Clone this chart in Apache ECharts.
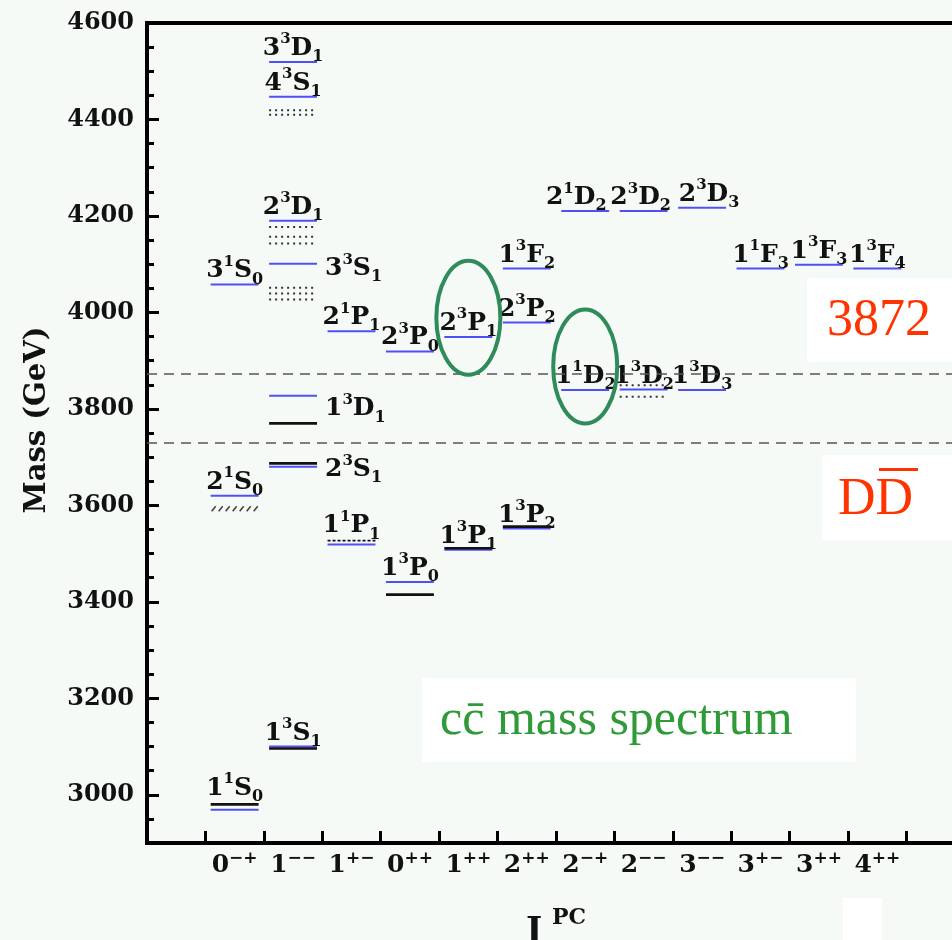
<!DOCTYPE html>
<html>
<head>
<meta charset="utf-8">
<script src="https://cdn.jsdelivr.net/npm/echarts@6/dist/echarts.min.js"></script>
<style>
  html, body { margin: 0; padding: 0; background: #f6faf7; }
  #chart { width: 952px; height: 940px; }
</style>
</head>
<body>
<div id="chart"></div>
<script>
// ---- J^PC columns (first and last slots are empty spacers) ----
const categories = [' ', '0-+', '1--', '1+-', '0++', '1++', '2++', '2-+', '2--', '3--', '3+-', '3++', '4++', '  '];

// ---- mass axis (MeV) ----
const massMin = 2900;
const massMax = 4600;
const majorTicks = [3000, 3200, 3400, 3600, 3800, 4000, 4200, 4400, 4600];
const minorTicks = [2950, 3050, 3100, 3150, 3250, 3300, 3350, 3450, 3500, 3550, 3650, 3700, 3750,
                    3850, 3900, 3950, 4050, 4100, 4150, 4250, 4300, 4350, 4450, 4500, 4550];

// ---- potential-model levels: [J^PC, mass, n(2S+1)L(J)] ----
const modelLevels = [
  ['0-+', 2969, '11S0'], ['0-+', 3620, '21S0'], ['0-+', 4058, '31S0'],
  ['1--', 3100, '13S1'], ['1--', 3680, '23S1'], ['1--', 3827, '13D1'],
  ['1--', 4101, '33S1'], ['1--', 4190, '23D1'], ['1--', 4447, '43S1'], ['1--', 4519, '33D1'],
  ['1+-', 3519, '11P1'], ['1+-', 3961, '21P1'],
  ['0++', 3441, '13P0'], ['0++', 3919, '23P0'],
  ['1++', 3508, '13P1'], ['1++', 3949, '23P1'],
  ['2++', 3552, '13P2'], ['2++', 3979, '23P2'], ['2++', 4091, '13F2'],
  ['2-+', 3839, '11D2'], ['2-+', 4210, '21D2'],
  ['2--', 3840, '13D2'], ['2--', 4210, '23D2'],
  ['3--', 3839, '13D3'], ['3--', 4217, '23D3'],
  ['3+-', 4091, '11F3'], ['3++', 4099, '13F3'], ['4++', 4091, '13F4']
];

// ---- observed states ----
const observedLevels = [['0-+', 2980], ['1--', 3096], ['1--', 3687], ['1--', 3770],
                        ['0++', 3415], ['1++', 3511], ['2++', 3556]];
const observedDashed = [['1+-', 3527]];
const observedHatched = [['0-+', 3593]];
const observedDotted = [['1--', 4027], ['1--', 4039], ['1--', 4051],
                        ['1--', 4143], ['1--', 4157], ['1--', 4177],
                        ['1--', 4410], ['1--', 4419],
                        ['2--', 3825], ['2--', 3849]];

// ---- thresholds and highlighted states ----
const thresholds = [3872, 3730];
const circled = [['1++', 3989], ['2-+', 3888]];

// ---- label placement for names not centred above their line ----
const labelPlacement = {
  '33S1': { side: 'right', dx: 0, dy: 5 },
  '13D1': { side: 'right', dx: 0, dy: 13 },
  '23S1': { side: 'right', dx: 0, dy: 3 },
  '11S0': { side: 'top', dx: 0, dy: -8 },
  '11P1': { side: 'top', dx: 0, dy: -5 },
  '21D2': { side: 'top', dx: -9, dy: 0 },
  '23D2': { side: 'top', dx: -3, dy: 0 },
  '23D3': { side: 'top', dx: 7, dy: 0 }
};

const SERIF = "'DejaVu Serif', serif";
const BLUE = '#4f4ff7';
const INK = '#111111';

const levelRich = {
  b:  { fontFamily: SERIF, fontWeight: 'bold', fontSize: 25, lineHeight: 33, verticalAlign: 'middle', fill: INK },
  sp: { fontFamily: SERIF, fontWeight: 'bold', fontSize: 15, lineHeight: 15, verticalAlign: 'top', fill: INK },
  sb: { fontFamily: SERIF, fontWeight: 'bold', fontSize: 16, lineHeight: 16, verticalAlign: 'bottom', fill: INK }
};

function levelText(name) {
  return '{b|' + name[0] + '}{sp|' + name[1] + '}{b|' + name[2] + '}{sb|' + name[3] + '}';
}

function halfWidth(api) {
  return api.size([1, 0])[0] * 0.41;
}

function modelItem(params, api) {
  const p = api.coord([api.value(0), api.value(1)]);
  const h = halfWidth(api);
  const name = modelLevels[params.dataIndex][2];
  const place = labelPlacement[name] || { side: 'top', dx: 0, dy: 0 };
  const text = levelText(name);
  const label = place.side === 'right'
    ? { type: 'text', x: p[0] + h + 8 + place.dx, y: p[1] + place.dy,
        style: { text: text, rich: levelRich, align: 'left', verticalAlign: 'middle' } }
    : { type: 'text', x: p[0] + place.dx, y: p[1] + 3 + place.dy,
        style: { text: text, rich: levelRich, align: 'center', verticalAlign: 'bottom' } };
  return {
    type: 'group',
    children: [
      { type: 'line', shape: { x1: p[0] - h, y1: p[1], x2: p[0] + h, y2: p[1] },
        style: { stroke: BLUE, lineWidth: 2 } },
      label
    ]
  };
}

function solidItem(params, api) {
  const p = api.coord([api.value(0), api.value(1)]);
  const h = halfWidth(api);
  return { type: 'line', shape: { x1: p[0] - h, y1: p[1], x2: p[0] + h, y2: p[1] },
           style: { stroke: INK, lineWidth: 2.6 } };
}

function dashedItem(params, api) {
  const p = api.coord([api.value(0), api.value(1)]);
  const h = halfWidth(api);
  return { type: 'line', shape: { x1: p[0] - h, y1: p[1], x2: p[0] + h, y2: p[1] },
           style: { stroke: INK, lineWidth: 1.8, lineDash: [3, 2] } };
}

function dottedItem(params, api) {
  const p = api.coord([api.value(0), api.value(1)]);
  const h = halfWidth(api);
  return { type: 'line', shape: { x1: p[0] - h, y1: p[1], x2: p[0] + h, y2: p[1] },
           style: { stroke: '#333', lineWidth: 2, lineDash: [2, 4] } };
}

function hatchedItem(params, api) {
  const p = api.coord([api.value(0), api.value(1)]);
  const h = halfWidth(api);
  const strokes = [];
  for (let x = p[0] - h + 1; x + 4 <= p[0] + h; x += 7) {
    strokes.push({ type: 'line', shape: { x1: x, y1: p[1] + 2.5, x2: x + 4, y2: p[1] - 2.5 },
                   style: { stroke: '#444', lineWidth: 1.6 } });
  }
  return { type: 'group', children: strokes };
}

function ellipseItem(params, api) {
  const p = api.coord([api.value(0), api.value(1)]);
  return { type: 'ellipse', shape: { cx: p[0], cy: p[1], rx: 32, ry: 57 },
           style: { fill: 'none', stroke: '#2e8b5a', lineWidth: 4 } };
}

const catRich = {
  b: { fontFamily: SERIF, fontWeight: 'bold', fontSize: 25, lineHeight: 30, verticalAlign: 'middle', color: INK },
  s: { fontFamily: SERIF, fontWeight: 'bold', fontSize: 17, lineHeight: 17, verticalAlign: 'top', color: INK }
};

function catLabel(v) {
  const t = v.trim();
  if (!t) return '';
  return '{b|' + t[0] + '}{s|' + t.slice(1).replace(/-/g, '\u2212') + '}';
}

const chart = echarts.init(document.getElementById('chart'), null, { renderer: 'canvas' });

chart.setOption({
  backgroundColor: '#f6faf7',
  animation: false,
  grid: {
    left: 147, top: 23, width: 818, height: 820,
    show: true, borderColor: '#000', borderWidth: 4, backgroundColor: 'transparent',
    containLabel: false, outerBoundsMode: 'none'
  },
  xAxis: {
    type: 'category',
    data: categories,
    boundaryGap: true,
    name: '{j|J}{p|PC}',
    nameLocation: 'middle',
    nameGap: 64,
    nameTextStyle: {
      rich: {
        j: { fontFamily: SERIF, fontWeight: 'bold', fontSize: 34, lineHeight: 42, verticalAlign: 'bottom', color: INK },
        p: { fontFamily: SERIF, fontWeight: 'bold', fontSize: 22, lineHeight: 22, verticalAlign: 'top', color: INK,
             padding: [0, 0, 0, 10] }
      }
    },
    axisLine: { show: true, lineStyle: { color: '#000', width: 4 } },
    axisTick: { show: true, inside: true, length: 12, interval: 0, alignWithLabel: false,
                lineStyle: { color: '#000', width: 3 } },
    axisLabel: { interval: 0, margin: 7, formatter: catLabel, rich: catRich },
    splitLine: { show: false }
  },
  yAxis: [
    {
      type: 'value',
      min: massMin, max: massMax,
      position: 'left',
      name: 'Mass (GeV)',
      nameLocation: 'middle',
      nameGap: 95,
      nameRotate: 90,
      nameTextStyle: { fontFamily: SERIF, fontWeight: 'bold', fontSize: 29, color: INK, padding: [0, 0, 0, 26] },
      axisLine: { show: true, lineStyle: { color: '#000', width: 4 } },
      axisTick: { show: true, inside: true, length: 12, customValues: majorTicks,
                  lineStyle: { color: '#000', width: 3 } },
      axisLabel: { customValues: majorTicks, margin: 13, fontFamily: SERIF, fontWeight: 'bold',
                   fontSize: 24, color: INK, formatter: v => String(v) },
      splitLine: { show: false }
    },
    {
      type: 'value',
      min: massMin, max: massMax,
      position: 'left',
      offset: 0,
      axisLine: { show: false },
      axisTick: { show: true, inside: true, length: 7, customValues: minorTicks,
                  lineStyle: { color: '#000', width: 3 } },
      axisLabel: { show: false },
      splitLine: { show: false }
    }
  ],
  series: [
    {
      name: 'thresholds', type: 'line', data: [], silent: true,
      markLine: {
        silent: true, symbol: 'none', animation: false,
        label: { show: false },
        lineStyle: { type: [10, 7], color: '#555', width: 1.6 },
        data: thresholds.map(v => ({ yAxis: v }))
      }
    },
    { name: 'model', type: 'custom', renderItem: modelItem, data: modelLevels.map(d => [d[0], d[1]]),
      encode: { x: 0, y: 1 }, z: 3, silent: true },
    { name: 'observed', type: 'custom', renderItem: solidItem, data: observedLevels,
      encode: { x: 0, y: 1 }, z: 4, silent: true },
    { name: 'observed (dashed)', type: 'custom', renderItem: dashedItem, data: observedDashed,
      encode: { x: 0, y: 1 }, z: 4, silent: true },
    { name: 'observed (hatched)', type: 'custom', renderItem: hatchedItem, data: observedHatched,
      encode: { x: 0, y: 1 }, z: 4, silent: true },
    { name: 'observed (dotted)', type: 'custom', renderItem: dottedItem, data: observedDotted,
      encode: { x: 0, y: 1 }, z: 4, silent: true },
    { name: 'circled', type: 'custom', renderItem: ellipseItem, data: circled,
      encode: { x: 0, y: 1 }, z: 5, silent: true }
  ],
  graphic: [
    { type: 'rect', left: 807, top: 278, shape: { width: 160, height: 84 }, style: { fill: '#ffffff' }, z: 10 },
    { type: 'text', left: 827, top: 295, z: 11,
      style: { text: '3872', fontFamily: "'Liberation Serif', serif", fontSize: 52, fill: '#ff3300' } },
    { type: 'rect', left: 822, top: 455, shape: { width: 145, height: 85 }, style: { fill: '#ffffff' }, z: 10 },
    { type: 'text', left: 838, top: 474, z: 11,
      style: { text: 'DD', fontFamily: "'Liberation Serif', serif", fontSize: 52, fill: '#ff3300' } },
    { type: 'rect', left: 879, top: 468, shape: { width: 39, height: 3 }, style: { fill: '#ff3300' }, z: 11 },
    { type: 'rect', left: 422, top: 678, shape: { width: 434, height: 84 }, style: { fill: '#ffffff' }, z: 10 },
    { type: 'text', left: 440, top: 696, z: 11,
      style: { text: 'c\u0063\u0304 mass spectrum', fontFamily: "'Liberation Serif', serif", fontSize: 50, fill: '#2e9a38' } },
    { type: 'rect', left: 843, top: 898, shape: { width: 39, height: 42 }, style: { fill: '#ffffff' }, z: 10 }
  ]
});
</script>
</body>
</html>
